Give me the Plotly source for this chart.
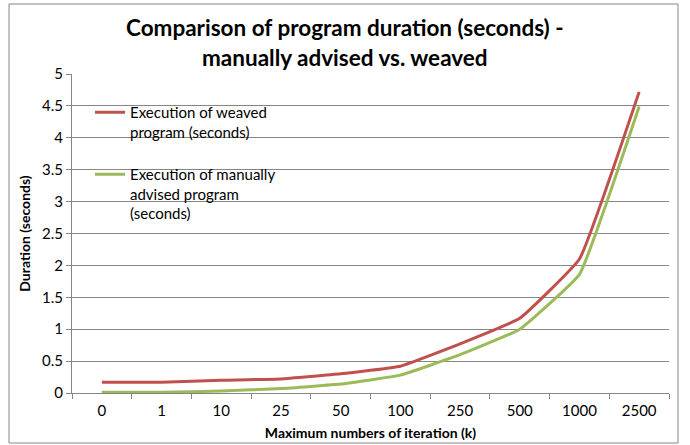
import plotly.graph_objects as go

categories = ["0", "1", "10", "25", "50", "100", "250", "500", "1000", "2500"]
weaved = [0.17, 0.17, 0.20, 0.22, 0.30, 0.42, 0.77, 1.17, 2.10, 4.72]
manual = [0.01, 0.01, 0.03, 0.07, 0.14, 0.28, 0.60, 1.00, 1.86, 4.49]
y_ticks = [0, 0.5, 1, 1.5, 2, 2.5, 3, 3.5, 4, 4.5, 5]
y_tick_labels = ["0", "0.5", "1", "1.5", "2", "2.5", "3", "3.5", "4", "4.5", "5"]

FONT = "Lato"
L, R, T, B = 72, 21, 74, 52
W, H = 690, 445
PW, PH = W - L - R, H - T - B

def px_x(x):
    return (x - L) / PW

def px_y(y):
    return (H - B - y) / PH

fig = go.Figure()
fig.add_trace(go.Scatter(
    x=categories, y=weaved, mode="lines", legendgroup="a",
    name="Execution of weaved<br>program (seconds)",
    line=dict(color="#C0504D", width=3, shape="spline", smoothing=0.3),
))
fig.add_trace(go.Scatter(
    x=categories, y=manual, mode="lines", legendgroup="b",
    name="Execution of manually<br>advised program<br>(seconds)",
    line=dict(color="#9BBB59", width=3, shape="spline", smoothing=0.3),
))

fig.update_layout(
    width=W, height=H,
    margin=dict(l=L, r=R, t=T, b=B),
    paper_bgcolor="white", plot_bgcolor="white",
    font=dict(family=FONT, size=14, color="#000000"),
    showlegend=True,
    legend=dict(
        x=px_x(90), y=px_y(96), xanchor="left", yanchor="top",
        bgcolor="rgba(0,0,0,0)", valign="top", itemwidth=30,
        traceorder="grouped", tracegroupgap=20, font=dict(family=FONT, size=15),
    ),
    xaxis=dict(
        type="category", range=[-0.5, 9.5], tickson="boundaries",
        ticks="outside", ticklen=5, automargin=False, ticklabelstandoff=4,
        tickcolor="#868686", showline=True, linecolor="#868686", linewidth=1,
        showgrid=False, tickfont=dict(size=15),
        title=dict(text="<b>Maximum numbers of iteration (k)</b>",
                   font=dict(size=14), standoff=10),
    ),
    yaxis=dict(
        range=[0, 5], tickvals=y_ticks, ticktext=y_tick_labels,
        ticks="outside", ticklen=5, tickcolor="#868686", automargin=False,
        showline=True, linecolor="#868686", linewidth=1,
        showgrid=True, gridcolor="#868686", gridwidth=1, zeroline=False,
        tickfont=dict(size=15),
        title=dict(text="<b>Duration (seconds)</b>", font=dict(size=14), standoff=8),
    ),
)

fig.add_annotation(
    text="<b>Comparison of program duration (seconds) -</b>",
    xref="paper", yref="paper", x=px_x(345), y=px_y(28),
    xanchor="center", yanchor="middle", showarrow=False,
    font=dict(family=FONT, size=22.5, color="#000000"),
)
fig.add_annotation(
    text="<b>manually advised vs. weaved</b>",
    xref="paper", yref="paper", x=px_x(345), y=px_y(58),
    xanchor="center", yanchor="middle", showarrow=False,
    font=dict(family=FONT, size=22.5, color="#000000"),
)

fig.add_shape(type="rect", xref="paper", yref="paper",
              x0=px_x(9), x1=px_x(678), y0=px_y(443), y1=px_y(4),
              line=dict(color="#868686", width=1), fillcolor="rgba(0,0,0,0)", layer="above")

fig.write_html("out.html", config={"displayModeBar": False},
               post_script="document.body.style.margin='0';")
